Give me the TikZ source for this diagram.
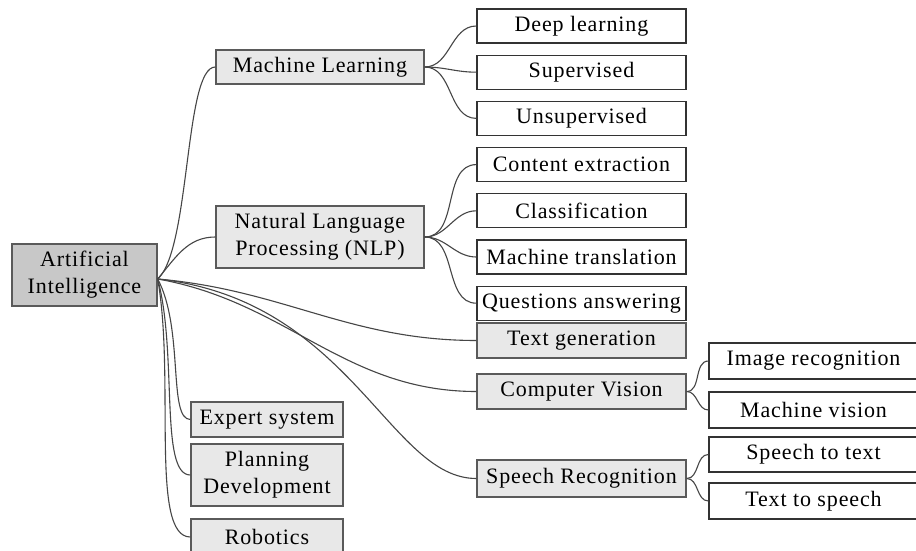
\documentclass[tikz,border=0pt]{standalone}
\usepackage{fontspec}
\setmainfont[LetterSpace=4]{Liberation Serif}
\definecolor{RootGray}{RGB}{200, 200, 200}
\definecolor{CatGray}{RGB}{232, 232, 232}
\definecolor{EdgeGray}{RGB}{90, 90, 90}
\definecolor{LinkGray}{RGB}{70, 70, 70}
\usepackage{tikz}
\usetikzlibrary{positioning}
\tikzset{
  rootbox/.style={rectangle, draw=EdgeGray, fill=RootGray, line width=1.4pt,
                  minimum width=145pt, minimum height=62pt, inner sep=0pt,
                  font=\fontsize{22}{27}\selectfont, align=center},
  catbox/.style={rectangle, draw=EdgeGray, fill=CatGray, line width=1.4pt,
                 minimum width=#1, minimum height=34pt, inner sep=0pt,
                 font=\fontsize{22}{27}\selectfont, align=center},
  catbox/.default=208pt,
  leafbox/.style={rectangle, draw=black!80, fill=white, line width=1.2pt,
                  minimum width=209pt, minimum height=34pt, inner sep=0pt,
                  font=\fontsize{22}{27}\selectfont, align=center},
  link/.style={draw=LinkGray, line width=1.1pt},
}
\begin{document}
\begin{tikzpicture}[x=1pt, y=-1pt]
  \clip (0,0) rectangle (916,551);
  \fill[white] (0,0) rectangle (916,551);

  \node[rootbox] (ai) at (84.5,275) {Artificial\\Intelligence};
  \coordinate (hub) at ([yshift=-4pt]ai.east);

  \node[catbox] (ml) at (320,67) {Machine Learning};
  \node[catbox, minimum height=62pt] (nlp) at (320,237) {Natural Language\\Processing (NLP)};
  \node[catbox=209pt, minimum height=35pt] (tg) at (581.5,340.5) {Text generation};
  \node[catbox=209pt, minimum height=35pt] (cv) at (581.5,391.5) {Computer Vision};
  \node[catbox=209pt, minimum height=37pt] (sr) at (581.5,478.5) {Speech Recognition};
  \node[catbox=152pt, minimum height=35pt] (es) at (267,419.5) {Expert system};
  \node[catbox=152pt, minimum height=62pt] (pd) at (267,475) {Planning\\Development};
  \node[catbox=152pt, minimum height=36pt] (rb) at (267,537) {Robotics};

  \node[leafbox] (dl) at (581.5,26) {Deep learning};
  \node[leafbox, below=11pt of dl] (sup) {Supervised};
  \node[leafbox, below=11pt of sup] (uns) {Unsupervised};
  \node[leafbox, below=11pt of uns] (ce) {Content extraction};
  \node[leafbox, below=11pt of ce] (cl) {Classification};
  \node[leafbox, below=11pt of cl] (mt) {Machine translation};
  \node[leafbox, below=11pt of mt] (qa) {Questions answering};

  \node[leafbox, minimum height=36pt] (ir) at (813.5,361) {Image recognition};
  \node[leafbox, minimum height=36pt] (mv) at (813.5,410) {Machine vision};
  \node[leafbox, minimum height=35pt] (st) at (813.5,454.5) {Speech to text};
  \node[leafbox, minimum height=36pt] (ts) at (813.5,501) {Text to speech};

  \draw[link] (hub) .. controls +(33,-30) and +(-31,0) .. (ml.west);
  \draw[link] (hub) to[out=50, in=180] (nlp.west);
  \draw[link] (hub) to[out=-5, in=180] (tg.west);
  \draw[link] (hub) to[out=-10, in=180] (cv.west);
  \draw[link] (hub) .. controls +(193,21) and +(-87,0) .. (sr.west);
  \draw[link] (hub) to[out=-62, in=180, in looseness=0.4] (es.west);
  \draw[link] (hub) to[out=-75, in=180, in looseness=0.4] (pd.west);
  \draw[link] (hub) to[out=-80, in=180, in looseness=0.4] (rb.west);

  \foreach \leaf in {dl, sup, uns}
    \draw[link] (ml.east) to[out=0, in=180] (\leaf.west);
  \foreach \leaf in {ce, cl, mt, qa}
    \draw[link] (nlp.east) to[out=0, in=180] (\leaf.west);
  \foreach \leaf in {ir, mv}
    \draw[link] (cv.east) to[out=0, in=180] (\leaf.west);
  \foreach \leaf in {st, ts}
    \draw[link] (sr.east) to[out=0, in=180] (\leaf.west);
\end{tikzpicture}
\end{document}
